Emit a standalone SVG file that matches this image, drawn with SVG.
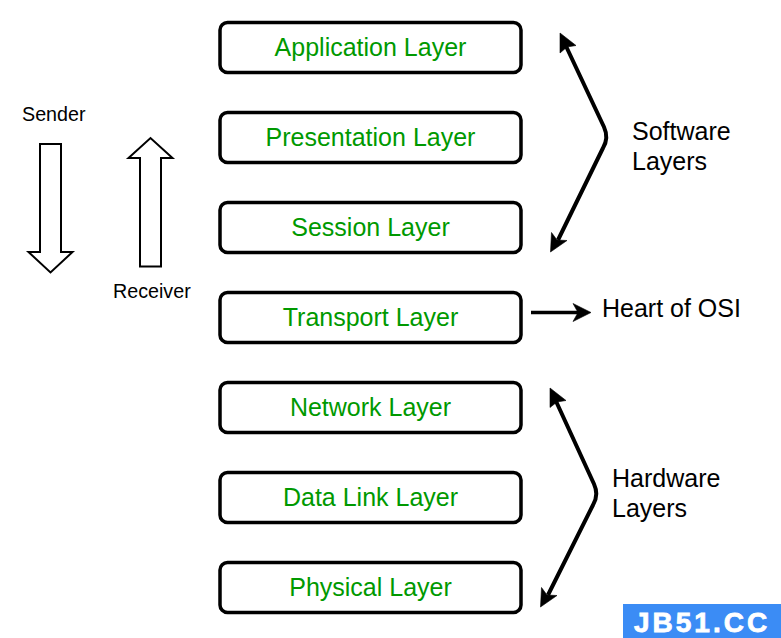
<svg xmlns="http://www.w3.org/2000/svg" width="781" height="638" viewBox="0 0 781 638">
<style>
.box{fill:#fff;stroke:#000;stroke-width:3.500}
.lay{font:25px "Liberation Sans",Arial,sans-serif;fill:#009900;text-anchor:middle}
.lbl{font:25px "Liberation Sans",Arial,sans-serif;fill:#000}
.sm{font:19.700px "Liberation Sans",Arial,sans-serif;fill:#000}
.big{fill:#fff;stroke:#000;stroke-width:2;stroke-linejoin:miter}
.con{fill:none;stroke:#000;stroke-width:4;stroke-linejoin:round}
.head{fill:#000;stroke:#000;stroke-width:.6}
.wm{font:bold 28px "Liberation Sans",Arial,sans-serif;fill:#fff;stroke:#fff;stroke-width:.8;letter-spacing:3px}
</style>
<rect width="781" height="638" fill="#fff"/>
<g id="application"><rect class="box" x="220" y="22.500" width="301" height="50" rx="7.500"/><text class="lay" x="370.500" y="55.500">Application Layer</text></g>
<g id="presentation"><rect class="box" x="220" y="112.500" width="301" height="50" rx="7.500"/><text class="lay" x="370.500" y="145.500">Presentation Layer</text></g>
<g id="session"><rect class="box" x="220" y="202.500" width="301" height="50" rx="7.500"/><text class="lay" x="370.500" y="235.500">Session Layer</text></g>
<g id="transport"><rect class="box" x="220" y="292.500" width="301" height="50" rx="7.500"/><text class="lay" x="370.500" y="325.500">Transport Layer</text></g>
<g id="network"><rect class="box" x="220" y="382.500" width="301" height="50" rx="7.500"/><text class="lay" x="370.500" y="415.500">Network Layer</text></g>
<g id="datalink"><rect class="box" x="220" y="472.500" width="301" height="50" rx="7.500"/><text class="lay" x="370.500" y="505.500">Data Link Layer</text></g>
<g id="physical"><rect class="box" x="220" y="562.500" width="301" height="50" rx="7.500"/><text class="lay" x="370.500" y="595.500">Physical Layer</text></g>
<g id="sender"><text class="sm" x="22" y="121">Sender</text><path class="big" d="M40 144H61V252H72.500L50.500 272.500L28.500 252H40Z"/></g>
<g id="receiver"><text class="sm" x="113" y="298">Receiver</text><path class="big" d="M140 266.500H161V158H172.500L150.500 138L128.500 158H140Z"/></g>
<g id="connectors">
<path class="con" d="M565 44L604 127Q609 138 603 148L558 240"/>
<path class="head" d="M560 33L576 45.500L567 47L560 53Z"/>
<path class="head" d="M550.500 252L551.500 232.500L557 240L567 240.500Z"/>
<path class="con" d="M555 399L594 484Q599 495 593 505L548 595"/>
<path class="head" d="M550 388L566 400.500L557 402L550 407.500Z"/>
<path class="head" d="M540.500 607L541.500 587.500L547 595L557 595.500Z"/>
<path class="con" style="stroke-width:3.500" d="M531 312.500H582"/>
<path class="head" d="M591 312.500L573 303.500L578 312.500L573 321.500Z"/>
</g>
<g id="labels">
<text class="lbl" x="632" y="140">Software</text><text class="lbl" x="632" y="170">Layers</text>
<text class="lbl" x="602" y="317">Heart of OSI</text>
<text class="lbl" x="612" y="487">Hardware</text><text class="lbl" x="612" y="517">Layers</text>
</g>
<g id="watermark"><rect x="623" y="604" width="158" height="34" fill="#3b8cf5"/><text class="wm" x="634" y="632">JB51.CC</text></g>
</svg>
